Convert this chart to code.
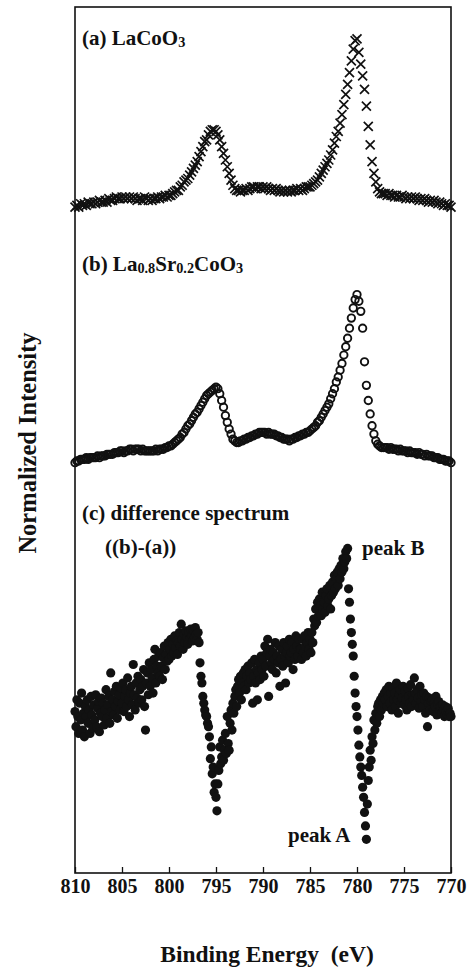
<!DOCTYPE html>
<html>
<head>
<meta charset="utf-8">
<script src="https://cdn.jsdelivr.net/npm/d3@7"></script>
<style>
  body { margin: 0; background: #fff; }
  svg { display: block; }
  text { font-family: "Liberation Serif", "Times New Roman", serif; font-weight: bold; fill: #111; }
  .tick text { font-size: 20px; }
</style>
</head>
<body>
<div id="chart"></div>
<script>
// binding energy grids (eV), high to low as on the plot
const energyAB = d3.range(201).map((i) => +(810 - 0.2 * i).toFixed(1));
const energyC = d3.range(401).map((i) => +(810 - 0.1 * i).toFixed(1));

// (a) LaCoO3, normalized intensity, 0.2 eV steps from 810 to 770
const laCoO3 = [
  0.00, 0.01, 0.00, 0.02, 0.01,  0.02, 0.01, 0.03, 0.02, 0.02,
  0.03, 0.02, 0.03, 0.04, 0.03,  0.03, 0.04, 0.03, 0.05, 0.04,
  0.04, 0.05, 0.06, 0.05, 0.05,  0.06, 0.05, 0.06, 0.05, 0.06,
  0.05, 0.06, 0.05, 0.04, 0.05,  0.05, 0.04, 0.06, 0.05, 0.04,
  0.05, 0.04, 0.05, 0.05, 0.06,  0.05, 0.06, 0.06, 0.07, 0.06,
  0.07, 0.07, 0.08, 0.09, 0.10,  0.10, 0.12, 0.13, 0.15, 0.16,
  0.17, 0.19, 0.21, 0.23, 0.25,  0.27, 0.30, 0.33, 0.36, 0.39,
  0.40, 0.43, 0.45, 0.46, 0.46,  0.45, 0.43, 0.40, 0.36, 0.32,
  0.28, 0.24, 0.20, 0.16, 0.13,  0.11, 0.10, 0.10, 0.09, 0.10,
  0.10, 0.11, 0.10, 0.11, 0.12,  0.12, 0.11, 0.12, 0.12, 0.11,
  0.12, 0.11, 0.12, 0.11, 0.10,  0.11, 0.10, 0.11, 0.10, 0.09,
  0.10, 0.09, 0.10, 0.09, 0.10,  0.09, 0.10, 0.10, 0.11, 0.10,
  0.11, 0.10, 0.11, 0.12, 0.12,  0.12, 0.13, 0.14, 0.15, 0.16,
  0.18, 0.20, 0.22, 0.24, 0.26,  0.28, 0.31, 0.34, 0.38, 0.42,
  0.45, 0.50, 0.55, 0.61, 0.67,  0.73, 0.80, 0.87, 0.94, 0.99,
  1.00, 0.92, 0.85, 0.78, 0.70,  0.60, 0.48, 0.37, 0.27, 0.20,
  0.15, 0.11, 0.09, 0.08, 0.08,  0.08, 0.07, 0.08, 0.07, 0.07,
  0.06, 0.07, 0.06, 0.06, 0.07,  0.06, 0.05, 0.06, 0.05, 0.06,
  0.05, 0.06, 0.05, 0.04, 0.05,  0.04, 0.05, 0.04, 0.03, 0.04,
  0.03, 0.04, 0.03, 0.02, 0.03,  0.02, 0.01, 0.02, 0.01, 0.01,
  0.00,
];

// (b) La0.8Sr0.2CoO3, same grid
const laSrCoO3 = [
  0.00, 0.01, 0.01, 0.02, 0.02,  0.02, 0.03, 0.02, 0.03, 0.03,
  0.03, 0.03, 0.04, 0.03, 0.04,  0.04, 0.04, 0.05, 0.05, 0.05,
  0.05, 0.06, 0.06, 0.06, 0.07,  0.07, 0.06, 0.07, 0.07, 0.08,
  0.08, 0.07, 0.08, 0.08, 0.08,  0.07, 0.08, 0.07, 0.07, 0.07,
  0.07, 0.07, 0.07, 0.08, 0.07,  0.08, 0.08, 0.08, 0.09, 0.09,
  0.10, 0.10, 0.11, 0.12, 0.13,  0.14, 0.15, 0.17, 0.18, 0.20,
  0.22, 0.23, 0.25, 0.27, 0.29,  0.30, 0.32, 0.34, 0.36, 0.38,
  0.40, 0.41, 0.42, 0.43, 0.44,  0.45, 0.44, 0.41, 0.37, 0.33,
  0.28, 0.24, 0.20, 0.17, 0.14,  0.13, 0.12, 0.12, 0.13, 0.13,
  0.14, 0.14, 0.15, 0.15, 0.16,  0.16, 0.17, 0.17, 0.18, 0.18,
  0.18, 0.18, 0.17, 0.18, 0.17,  0.17, 0.17, 0.16, 0.16, 0.15,
  0.15, 0.14, 0.14, 0.14, 0.13,  0.14, 0.14, 0.15, 0.15, 0.16,
  0.16, 0.17, 0.17, 0.18, 0.18,  0.19, 0.20, 0.21, 0.22, 0.24,
  0.25, 0.27, 0.29, 0.31, 0.33,  0.35, 0.38, 0.41, 0.44, 0.48,
  0.51, 0.55, 0.59, 0.64, 0.69,  0.74, 0.80, 0.86, 0.92, 0.97,
  1.00, 0.96, 0.90, 0.80, 0.60,  0.46, 0.37, 0.29, 0.22, 0.17,
  0.13, 0.11, 0.10, 0.09, 0.09,  0.09, 0.09, 0.08, 0.09, 0.08,
  0.08, 0.08, 0.07, 0.08, 0.07,  0.07, 0.07, 0.06, 0.07, 0.06,
  0.06, 0.06, 0.05, 0.06, 0.05,  0.05, 0.04, 0.05, 0.04, 0.04,
  0.04, 0.03, 0.03, 0.03, 0.02,  0.02, 0.02, 0.01, 0.01, 0.01,
  0.00,
];

// (c) difference spectrum ((b)-(a)), magnified, 0.1 eV steps
const difference = [
  0.05, -0.04, 0.12, 0.02, -0.08, 0.10, 0.00, 0.16, -0.06, 0.04,
  -0.10, 0.08, 0.02, 0.12, -0.02, 0.06, -0.08, 0.14, 0.03, -0.05,
  0.09, 0.00, 0.15, -0.04, 0.07, 0.11, -0.07, 0.04, 0.13, 0.02,
  0.10, -0.03, 0.06, 0.18, 0.01, 0.09, 0.14, -0.02, 0.28, 0.05,
  0.12, 0.03, 0.17, 0.08, 0.20, 0.01, 0.11, 0.15, 0.06, 0.19,
  0.10, 0.22, 0.05, 0.14, 0.18, 0.08, 0.25, 0.12, 0.02, 0.16,
  0.20, 0.09, 0.33, 0.15, 0.06, 0.22, 0.13, 0.26, 0.10, 0.18,
  0.24, 0.12, 0.20, 0.30, 0.08, -0.06, 0.22, 0.28, 0.15, 0.34,
  0.20, 0.30, 0.25, 0.16, 0.36, 0.42, 0.22, 0.32, 0.28, 0.38,
  0.26, 0.40, 0.32, 0.24, 0.37, 0.44, 0.30, 0.39, 0.35, 0.46,
  0.36, 0.42, 0.48, 0.38, 0.45, 0.40, 0.50, 0.43, 0.47, 0.39,
  0.46, 0.52, 0.44, 0.57, 0.48, 0.42, 0.51, 0.46, 0.53, 0.49,
  0.45, 0.52, 0.48, 0.54, 0.50, 0.47, 0.53, 0.49, 0.55, 0.51,
  0.48, 0.52, 0.46, 0.34, 0.26, 0.22, 0.14, 0.10, 0.06, 0.03,
  0.02, -0.02, -0.04, -0.10, -0.23, -0.16, -0.32, -0.28, -0.43, -0.38,
  -0.46, -0.54, -0.38, -0.30, -0.16, -0.26, -0.22, -0.12, -0.24, -0.18,
  -0.08, -0.20, 0.02, -0.14, -0.18, -0.02, 0.06, -0.06, 0.10, 0.04,
  0.14, 0.18, 0.08, 0.20, 0.24, 0.16, 0.26, 0.12, 0.22, 0.28,
  0.20, 0.30, 0.18, 0.26, 0.32, 0.22, 0.28, 0.24, 0.34, 0.10,
  0.26, 0.36, 0.22, 0.30, 0.12, 0.28, 0.34, 0.24, 0.38, 0.30,
  0.36, 0.26, 0.44, 0.32, 0.40, 0.48, 0.14, 0.38, 0.42, 0.34,
  0.30, 0.40, 0.36, 0.46, 0.28, 0.38, 0.34, 0.44, 0.20, 0.36,
  0.42, 0.32, 0.46, 0.38, 0.22, 0.40, 0.44, 0.34, 0.48, 0.38,
  0.40, 0.46, 0.30, 0.42, 0.36, 0.50, 0.44, 0.38, 0.48, 0.42,
  0.42, 0.36, 0.48, 0.40, 0.50, 0.44, 0.38, 0.46, 0.52, 0.42,
  0.48, 0.40, 0.52, 0.46, 0.60, 0.56, 0.66, 0.58, 0.70, 0.62,
  0.72, 0.68, 0.62, 0.76, 0.66, 0.70, 0.64, 0.74, 0.78, 0.68,
  0.72, 0.80, 0.66, 0.74, 0.82, 0.76, 0.86, 0.78, 0.84, 0.88,
  0.80, 0.90, 0.84, 0.92, 0.88, 0.96, 0.90, 0.94, 1.00, 0.96,
  1.02, 0.78, 0.70, 0.60, 0.52, 0.45, 0.38, 0.26, 0.16, 0.08,
  0.02, -0.06, -0.15, -0.22, -0.28, -0.33, -0.40, -0.46, -0.55, -0.63,
  -0.71, -0.50, -0.36, -0.28, -0.18, -0.24, -0.10, -0.14, 0.00, -0.06,
  0.04, -0.02, 0.08, 0.10, 0.02, 0.12, 0.06, 0.14, 0.10, 0.16,
  0.12, 0.18, 0.08, 0.14, 0.20, 0.10, 0.16, 0.06, 0.19, 0.12,
  0.16, 0.08, 0.22, 0.12, 0.04, 0.15, 0.18, 0.10, 0.13, 0.20,
  0.09, 0.17, 0.12, 0.06, 0.19, 0.14, 0.10, 0.21, 0.08, 0.15,
  0.12, 0.25, 0.16, 0.10, 0.18, 0.13, 0.07, 0.20, 0.11, 0.15,
  0.08, 0.16, 0.12, 0.04, 0.14, -0.04, 0.10, 0.13, 0.06, 0.11,
  0.12, 0.05, 0.10, 0.08, 0.14, 0.03, 0.09, 0.11, 0.06, 0.08,
  0.04, 0.09, 0.06, 0.02, 0.08, 0.05, 0.03, 0.07, 0.02, 0.04,
  0.02,
];

// vertical offsets of the stacked spectra (normalized intensity units)
const offsets = { a: 3.96, b: 2.44, c: 0.91 };

const xTicks = [810, 805, 800, 795, 790, 785, 780, 775, 770];

// label pieces: [text, isSubscript]
const labelA = [["(a) LaCoO", false], ["3", true]];
const labelB = [["(b) La", false], ["0.8", true], ["Sr", false], ["0.2", true], ["CoO", false], ["3", true]];
const labelC = [["(c) difference spectrum", false]];
const labelC2 = [["((b)-(a))", false]];
const labelPeakB = [["peak B", false]];
const labelPeakA = [["peak A", false]];

const xLabel = "Binding Energy\u00a0 (eV)";
const yLabel = "Normalized Intensity";

class SpectraVis {
  constructor(_parentElement) {
    this.parentElement = _parentElement;
    this.initVis();
  }

  initVis() {
    let vis = this;

    vis.width = 474;
    vis.height = 975;
    vis.margin = { top: 7, right: 23, bottom: 102, left: 75 };

    vis.svg = d3
      .select("#" + vis.parentElement)
      .append("svg")
      .attr("width", vis.width)
      .attr("height", vis.height);

    vis.x = d3
      .scaleLinear()
      .domain([810, 770])
      .range([vis.margin.left, vis.width - vis.margin.right]);

    vis.y = d3
      .scaleLinear()
      .domain([0, 5.15])
      .range([vis.height - vis.margin.bottom, vis.margin.top]);

    vis.xAxis = d3
      .axisBottom(vis.x)
      .tickValues(xTicks)
      .tickSizeInner(-6)
      .tickSizeOuter(0)
      .tickPadding(6)
      .tickFormat(d3.format("d"));

    vis.updateVis();
  }

  drawLabel(parts, ex, ev, size) {
    let vis = this;
    const t = vis.svg
      .append("text")
      .attr("x", vis.x(ex))
      .attr("y", vis.y(ev))
      .attr("font-size", size);
    let shifted = false;
    parts.forEach(([s, sub]) => {
      const span = t.append("tspan").text(s);
      if (sub && !shifted) {
        span.attr("dy", 2).attr("font-size", size * 0.68);
        shifted = true;
      } else if (sub) {
        span.attr("font-size", size * 0.68);
      } else if (shifted) {
        span.attr("dy", -2);
        shifted = false;
      }
    });
  }

  updateVis() {
    let vis = this;

    const seriesA = energyAB.map((e, i) => ({ e, v: laCoO3[i] + offsets.a }));
    const seriesB = energyAB.map((e, i) => ({ e, v: laSrCoO3[i] + offsets.b }));
    const seriesC = energyC.map((e, i) => ({ e, v: difference[i] + offsets.c }));

    // frame
    vis.svg
      .append("rect")
      .attr("x", vis.x(810))
      .attr("y", vis.y(5.15))
      .attr("width", vis.x(770) - vis.x(810))
      .attr("height", vis.y(0) - vis.y(5.15))
      .attr("fill", "none")
      .attr("stroke", "#111")
      .attr("stroke-width", 1.6);

    // (a) crosses
    vis.svg
      .append("g")
      .selectAll("path")
      .data(seriesA)
      .join("path")
      .attr("transform", (d) => `translate(${vis.x(d.e)},${vis.y(d.v)})`)
      .attr("d", "M-4.5,-4.5L4.5,4.5M-4.5,4.5L4.5,-4.5")
      .attr("stroke", "#111")
      .attr("stroke-width", 1.7)
      .attr("fill", "none");

    // (b) open circles
    vis.svg
      .append("g")
      .selectAll("circle")
      .data(seriesB)
      .join("circle")
      .attr("cx", (d) => vis.x(d.e))
      .attr("cy", (d) => vis.y(d.v))
      .attr("r", 3.7)
      .attr("fill", "none")
      .attr("stroke", "#111")
      .attr("stroke-width", 1.9);

    // (c) filled dots
    vis.svg
      .append("g")
      .selectAll("circle")
      .data(seriesC)
      .join("circle")
      .attr("cx", (d) => vis.x(d.e))
      .attr("cy", (d) => vis.y(d.v))
      .attr("r", 4.6)
      .attr("fill", "#111");

    vis.svg
      .append("g")
      .attr("transform", `translate(0,${vis.y(0)})`)
      .call(vis.xAxis)
      .call((g) => g.attr("font-family", null).attr("font-size", null))
      .call((g) => g.select(".domain").remove())
      .call((g) => g.selectAll(".tick line").attr("stroke", "#111").attr("stroke-width", 1.3))
      .call((g) => g.selectAll(".tick text").attr("fill", "#111"));

    vis.drawLabel(labelA, 809.26, 4.924, 21);
    vis.drawLabel(labelB, 809.26, 3.58, 21);
    vis.drawLabel(labelC, 809.26, 2.1, 21);
    vis.drawLabel(labelC2, 806.8, 1.897, 21);
    vis.drawLabel(labelPeakB, 779.47, 1.891, 21);
    vis.drawLabel(labelPeakA, 787.34, 0.184, 21);

    vis.svg
      .append("text")
      .attr("x", vis.x(790) + 4)
      .attr("y", 962)
      .attr("text-anchor", "middle")
      .attr("font-size", 23.5)
      .style("white-space", "pre")
      .text(xLabel);

    vis.svg
      .append("text")
      .attr("transform", `translate(36,${(vis.y(0) + vis.y(5.15)) / 2 + 3}) rotate(-90)`)
      .attr("text-anchor", "middle")
      .attr("font-size", 24.5)
      .text(yLabel);
  }
}

new SpectraVis("chart");
</script>
</body>
</html>
